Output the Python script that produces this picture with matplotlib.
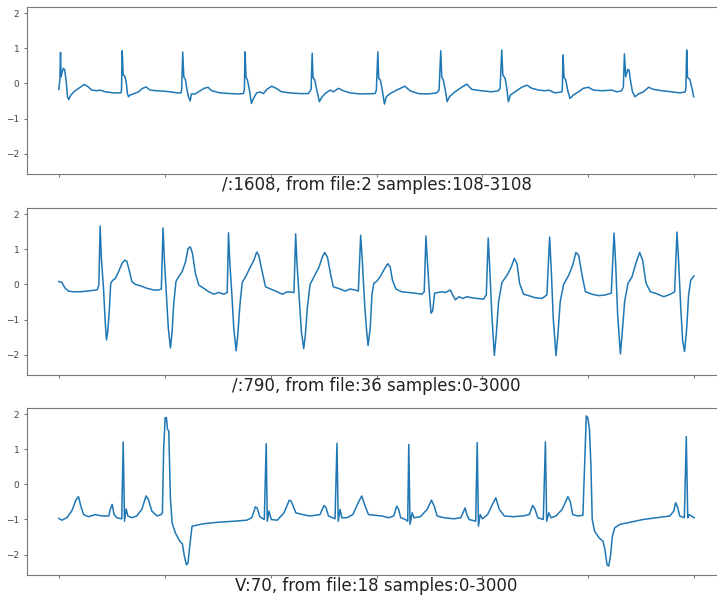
import numpy as np
import matplotlib.pyplot as plt

# three ECG segments, (sample, mV) points
labels = [
    "/:1608, from file:2 samples:108-3108",
    "/:790, from file:36 samples:0-3000",
    "V:70, from file:18 samples:0-3000",
]

trace1 = [
    (0, -0.17), (5, 0.1), (8, 0.88), (11, 0.19), (16, 0.33), (22, 0.43), (28, 0.38), (35, 0.05),
    (41, -0.38), (47, -0.46), (57, -0.33), (77, -0.21), (101, -0.11), (120, -0.03), (135, -0.08),
    (156, -0.19), (179, -0.21), (195, -0.19), (219, -0.24), (258, -0.27), (293, -0.27),
    (296, -0.19), (299, 0.93), (304, 0.24), (311, 0.21), (318, 0.05), (324, -0.29), (329, -0.38),
    (337, -0.33), (352, -0.3), (376, -0.24), (396, -0.14), (412, -0.1), (431, -0.19), (462, -0.21),
    (494, -0.22), (525, -0.24), (557, -0.27), (577, -0.27),
    (580, -0.17), (585, 0.89), (590, 0.19), (598, 0.1), (604, -0.14), (612, -0.38), (620, -0.5),
    (626, -0.3), (643, -0.3), (667, -0.21), (686, -0.14), (705, -0.11), (722, -0.21), (761, -0.27),
    (809, -0.29), (848, -0.3), (871, -0.29),
    (876, -0.19), (879, 0.9), (884, 0.17), (890, 0.11), (900, -0.19), (909, -0.57), (919, -0.43),
    (934, -0.27), (950, -0.24), (966, -0.29), (982, -0.17), (1005, -0.08), (1026, -0.14),
    (1052, -0.24), (1092, -0.27), (1139, -0.29), (1178, -0.29),
    (1191, -0.17), (1196, 0.86), (1200, 0.17), (1208, 0.1), (1218, -0.19), (1230, -0.52),
    (1241, -0.4), (1257, -0.29), (1281, -0.19), (1296, -0.24), (1320, -0.14), (1343, -0.21),
    (1375, -0.27), (1422, -0.3),
    (1493, -0.29), (1499, -0.19), (1506, 0.9), (1510, 0.14), (1518, 0.1), (1527, -0.19),
    (1537, -0.59), (1546, -0.38), (1564, -0.29), (1595, -0.19), (1634, -0.08), (1658, -0.21),
    (1697, -0.29), (1744, -0.3), (1784, -0.27),
    (1795, -0.19), (1803, 0.93), (1808, 0.17), (1815, 0.1), (1823, -0.14), (1833, -0.52),
    (1844, -0.38), (1870, -0.24), (1902, -0.11), (1926, -0.02), (1949, -0.17), (1996, -0.21),
    (2043, -0.24), (2075, -0.21),
    (2083, -0.14), (2091, 0.95), (2096, 0.24), (2107, 0.14), (2115, -0.14), (2122, -0.52),
    (2132, -0.33), (2154, -0.24), (2185, -0.11), (2209, -0.05), (2233, -0.14), (2265, -0.19),
    (2296, -0.21), (2312, -0.19), (2343, -0.27), (2375, -0.24),
    (2377, -0.14), (2380, 0.81), (2385, 0.17), (2393, 0.1), (2402, -0.19), (2413, -0.43),
    (2429, -0.33), (2453, -0.24), (2476, -0.14), (2500, -0.11), (2523, -0.19), (2563, -0.21),
    (2610, -0.19), (2633, -0.24), (2657, -0.21),
    (2665, -0.1), (2670, 0.84), (2676, 0.19), (2686, 0.4), (2692, 0.38), (2698, 0.1),
    (2708, -0.24), (2720, -0.38), (2736, -0.3), (2760, -0.24), (2784, -0.11), (2807, -0.17),
    (2847, -0.21), (2894, -0.24), (2933, -0.27), (2957, -0.24),
    (2960, -0.14), (2964, 0.95), (2968, 0.17), (2979, 0.11), (2990, -0.17), (2997, -0.38),
]

trace2 = [
    (0, 0.08), (14, 0.06), (30, -0.11), (46, -0.19), (69, -0.21), (101, -0.21), (132, -0.19),
    (164, -0.17), (182, -0.15), (189, -0.02), (195, 1.66), (201, 0.74), (211, -0.11), (219, -1.06),
    (225, -1.58), (231, -1.34), (239, -0.68), (245, 0.03), (255, 0.12), (267, 0.17), (282, 0.36),
    (298, 0.59), (311, 0.69), (321, 0.66), (332, 0.41), (345, 0.08), (361, 0.0), (385, -0.04),
    (416, -0.11), (448, -0.16), (472, -0.16), (484, -0.13),
    (492, 1.61), (498, 0.74), (508, -0.3), (517, -1.25), (527, -1.81), (535, -1.34), (542, -0.58),
    (553, 0.08), (566, 0.22), (582, 0.36), (598, 0.64), (610, 1.02), (621, 1.07), (631, 0.88),
    (645, 0.31), (661, -0.02), (684, -0.11), (708, -0.21), (732, -0.28), (755, -0.23), (779, -0.28),
    (795, -0.23),
    (801, 1.47), (807, 0.64), (817, -0.3), (826, -1.25), (837, -1.89), (845, -1.43), (855, -0.58),
    (866, 0.06), (882, 0.22), (902, 0.47), (921, 0.69), (934, 0.92), (944, 0.83), (960, 0.36),
    (976, -0.07), (1000, -0.13), (1031, -0.21), (1055, -0.28), (1079, -0.21), (1110, -0.23),
    (1118, 1.44), (1124, 0.64), (1134, -0.3), (1145, -1.34), (1156, -1.83), (1164, -1.43),
    (1173, -0.68), (1186, 0.0), (1205, 0.22), (1229, 0.5), (1244, 0.78), (1255, 0.91), (1268, 0.78),
    (1284, 0.26), (1296, -0.07), (1328, -0.13), (1351, -0.19), (1375, -0.13), (1399, -0.16),
    (1414, -0.19),
    (1425, 1.4), (1433, 0.64), (1443, -0.49), (1452, -1.25), (1460, -1.74), (1470, -1.25),
    (1478, -0.3), (1487, 0.03), (1501, 0.09), (1517, 0.22), (1538, 0.45), (1553, 0.59), (1564, 0.5),
    (1575, 0.12), (1591, -0.13), (1619, -0.21), (1651, -0.23), (1682, -0.25), (1714, -0.28),
    (1725, -0.21),
    (1733, 1.38), (1741, 0.55), (1749, -0.21), (1757, -0.82), (1765, -0.75), (1774, -0.25),
    (1790, -0.23), (1809, -0.21), (1825, -0.23), (1848, -0.16), (1859, -0.3), (1872, -0.44),
    (1888, -0.35), (1907, -0.4), (1927, -0.35), (1950, -0.38), (1974, -0.4), (2005, -0.42),
    (2018, -0.3),
    (2027, 1.32), (2035, 0.36), (2045, -0.96), (2056, -2.02), (2065, -1.43), (2076, -0.49),
    (2092, 0.06), (2116, 0.26), (2136, 0.5), (2150, 0.74), (2163, 0.59), (2175, 0.03), (2194, -0.28),
    (2218, -0.32), (2249, -0.38), (2281, -0.4), (2304, -0.3),
    (2317, 1.35), (2325, 0.36), (2334, -0.96), (2347, -2.03), (2356, -1.43), (2367, -0.49),
    (2383, 0.0), (2407, 0.26), (2426, 0.55), (2441, 0.91), (2454, 0.83), (2470, 0.26), (2486, -0.21),
    (2517, -0.28), (2548, -0.32), (2580, -0.3), (2608, -0.25),
    (2621, 1.46), (2629, 0.55), (2638, -0.87), (2651, -1.98), (2660, -1.34), (2671, -0.49),
    (2687, 0.03), (2706, 0.22), (2726, 0.64), (2742, 0.91), (2756, 0.69), (2772, 0.03), (2793, -0.21),
    (2816, -0.25), (2856, -0.35), (2887, -0.28), (2907, -0.21),
    (2918, 1.49), (2926, 0.64), (2936, -0.68), (2945, -1.62), (2954, -1.91), (2964, -1.25),
    (2973, -0.3), (2983, 0.12), (2998, 0.24),
]

trace3 = [
    (0, -0.97), (14, -1.02), (38, -0.95), (61, -0.76), (82, -0.43), (93, -0.35), (104, -0.62),
    (117, -0.86), (140, -0.92), (173, -0.86), (204, -0.9), (236, -0.9), (243, -0.71), (252, -0.57),
    (261, -0.86), (274, -0.95), (297, -0.98), (304, 1.21), (310, -1.05), (318, -0.7), (326, -0.9),
    (345, -0.95), (368, -0.9), (392, -0.71), (412, -0.33), (423, -0.43), (439, -0.76), (464, -0.9),
    (483, -0.86), (489, -0.81), (495, 1.0), (502, 1.9), (508, 1.9), (513, 1.57), (519, 1.52),
    (527, -0.43), (535, -1.1), (550, -1.38), (571, -1.62), (583, -1.69), (593, -2.05), (602, -2.29),
    (610, -2.24), (618, -1.76), (629, -1.19), (645, -1.17), (684, -1.12), (747, -1.08), (826, -1.05),
    (887, -1.02), (911, -0.95), (928, -0.64), (936, -0.67), (949, -0.92), (970, -1.0), (979, 1.16),
    (984, -1.05), (992, -0.76), (1003, -1.0), (1031, -1.02), (1063, -0.81), (1088, -0.45),
    (1097, -0.48), (1119, -0.81), (1151, -0.86), (1186, -0.9), (1233, -0.86), (1252, -0.6),
    (1262, -0.67), (1273, -0.9), (1304, -0.98), (1313, 1.17), (1319, -1.05), (1328, -0.71),
    (1336, -0.95), (1359, -0.95), (1388, -0.86), (1415, -0.5), (1430, -0.33), (1446, -0.62),
    (1462, -0.86), (1494, -0.88), (1526, -0.9), (1557, -0.95), (1581, -0.9), (1595, -0.62),
    (1604, -0.71), (1614, -0.95), (1636, -1.0), (1647, -1.05), (1652, 1.14), (1658, -1.14),
    (1668, -0.81), (1677, -0.95), (1707, -0.92), (1739, -0.71), (1759, -0.45), (1772, -0.62),
    (1786, -0.9), (1818, -0.95), (1865, -0.98), (1897, -0.95), (1908, -0.81), (1918, -0.67),
    (1926, -0.86), (1937, -1.0), (1968, -1.05), (1975, 1.19), (1981, -1.19), (1989, -0.86),
    (2000, -0.98), (2024, -0.86), (2047, -0.57), (2063, -0.38), (2079, -0.71), (2103, -0.9),
    (2142, -0.92), (2190, -0.9), (2221, -0.86), (2237, -0.6), (2248, -0.71), (2261, -0.95),
    (2287, -1.0), (2297, 1.21), (2303, -1.05), (2313, -0.81), (2324, -0.95), (2347, -0.9),
    (2376, -0.71), (2403, -0.35), (2414, -0.48), (2426, -0.86), (2450, -0.9), (2474, -0.88),
    (2482, 0.52), (2490, 1.95), (2497, 1.9), (2505, 1.57), (2512, 0.52), (2518, -1.0), (2529, -1.33),
    (2550, -1.52), (2569, -1.62), (2578, -1.86), (2588, -2.29), (2596, -2.33), (2604, -2.05),
    (2613, -1.48), (2624, -1.24), (2648, -1.14), (2695, -1.08), (2758, -1.0), (2821, -0.95),
    (2884, -0.9), (2903, -0.76), (2912, -0.52), (2922, -0.67), (2931, -0.9), (2953, -0.95),
    (2962, 1.36), (2969, -0.95), (2975, -0.86), (2986, -0.9), (3000, -0.95),
]

traces = [trace1, trace2, trace3]

fig = plt.figure(figsize=(7.17, 6.0), dpi=100)
bottoms = [0.71, 0.375, 0.0417]

for trace, label, b in zip(traces, labels, bottoms):
    ax = fig.add_axes([0.0377, b, 0.975, 0.278])
    xs, ys = zip(*trace)
    ax.plot(xs, ys, color='#1f77b4', lw=1.1)
    ax.set_xlim(-150, 3150)
    ax.set_ylim(-2.58, 2.17)
    ax.set_xticks(np.arange(0, 3001, 500))
    ax.set_xticklabels([])
    ax.set_yticks([-2, -1, 0, 1, 2])
    ax.tick_params(labelsize=6.5, labelcolor='#444', colors='#777', length=2)
    for s in ax.spines.values():
        s.set_color('#777')
    ax.set_xlabel(label, fontsize=12, color='#222', labelpad=-4)

fig.savefig('out.png', dpi=100)
